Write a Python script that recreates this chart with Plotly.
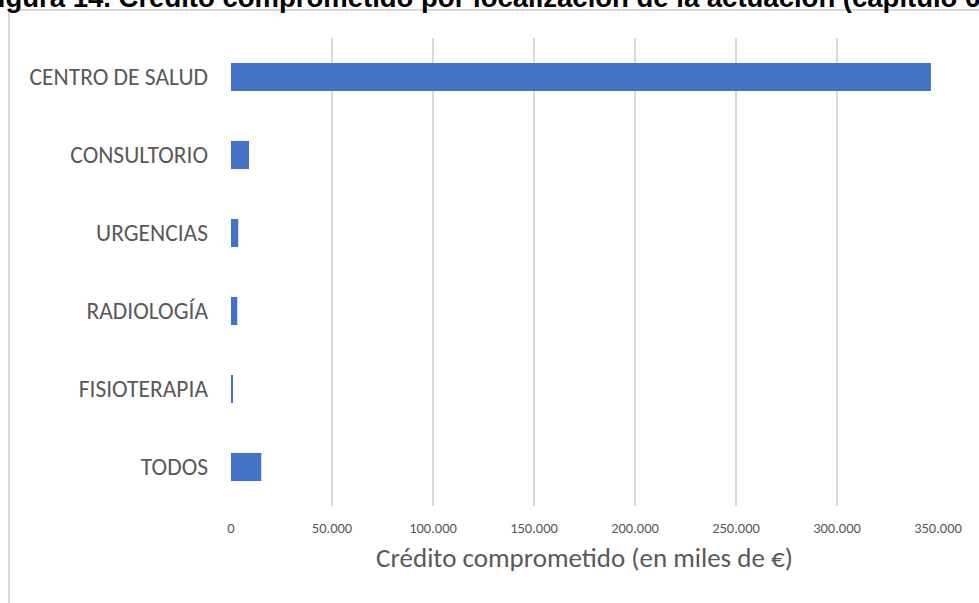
"""Horizontal bar chart: crédito comprometido por localización."""

import plotly.graph_objects as go

# ─── Data ─────────────────────────────────────────────────────────────────── #

categorias = ["CENTRO DE SALUD", "CONSULTORIO", "URGENCIAS", "RADIOLOGÍA", "FISIOTERAPIA", "TODOS"]
credito_miles = [346500, 8900, 3600, 3100, 700, 15000]

titulo = "Figura 14. Crédito comprometido por localización de la actuación (capítulo 6)"
eje_x_titulo = "Crédito comprometido (en miles de €)"

# ─── Figure ───────────────────────────────────────────────────────────────── #

W, H = 979, 603
ML, MR, MT, MB = 231, 41, 38, 97
PW, PH = W - ML - MR, H - MT - MB


def px_x(p):
    return (p - ML) / PW


def px_y(p):
    return 1 - (p - MT) / PH


FONT = "Calibri, Carlito, Lato, sans-serif"

fig = go.Figure(
    go.Bar(
        x=credito_miles,
        y=categorias,
        orientation="h",
        marker=dict(color="#4472C4", line=dict(width=0)),
    )
)

fig.update_layout(
    width=W,
    height=H,
    margin=dict(l=ML, r=MR, t=MT, b=MB),
    paper_bgcolor="white",
    plot_bgcolor="white",
    separators=",.",
    bargap=0.64,
    showlegend=False,
    font=dict(family=FONT, color="#595959"),
)

fig.update_xaxes(
    range=[0, 350000],
    dtick=50000,
    tickformat=",d",
    showgrid=True,
    gridcolor="#d9d9d9",
    gridwidth=1.5,
    zeroline=False,
    showline=False,
    tickfont=dict(size=14.5, color="#595959"),
    ticklabelstandoff=11,
    title=dict(text=eje_x_titulo, font=dict(size=27, color="#595959"), standoff=12),
)

fig.update_yaxes(
    categoryorder="array",
    categoryarray=categorias[::-1],
    showgrid=False,
    zeroline=False,
    showline=False,
    tickfont=dict(size=23.5, color="#595959"),
    ticklabelstandoff=22,
)

# outer chart border (top and left edges visible)
fig.add_shape(
    type="rect",
    xref="paper", yref="paper",
    x0=px_x(9), x1=px_x(1010), y0=px_y(640), y1=px_y(10),
    line=dict(color="#d9d9d9", width=2),
    layer="below",
)

# cropped caption above the chart
fig.add_annotation(
    text=titulo,
    xref="paper", yref="paper",
    x=px_x(-21), y=px_y(-3),
    xanchor="left", yanchor="middle",
    showarrow=False,
    font=dict(family="Liberation Sans, Arial, sans-serif", size=27.5, color="black", weight="bold"),
)

fig.write_html(
    "out.html",
    config={"displayModeBar": False},
    post_script="document.body.style.margin='0';",
)
